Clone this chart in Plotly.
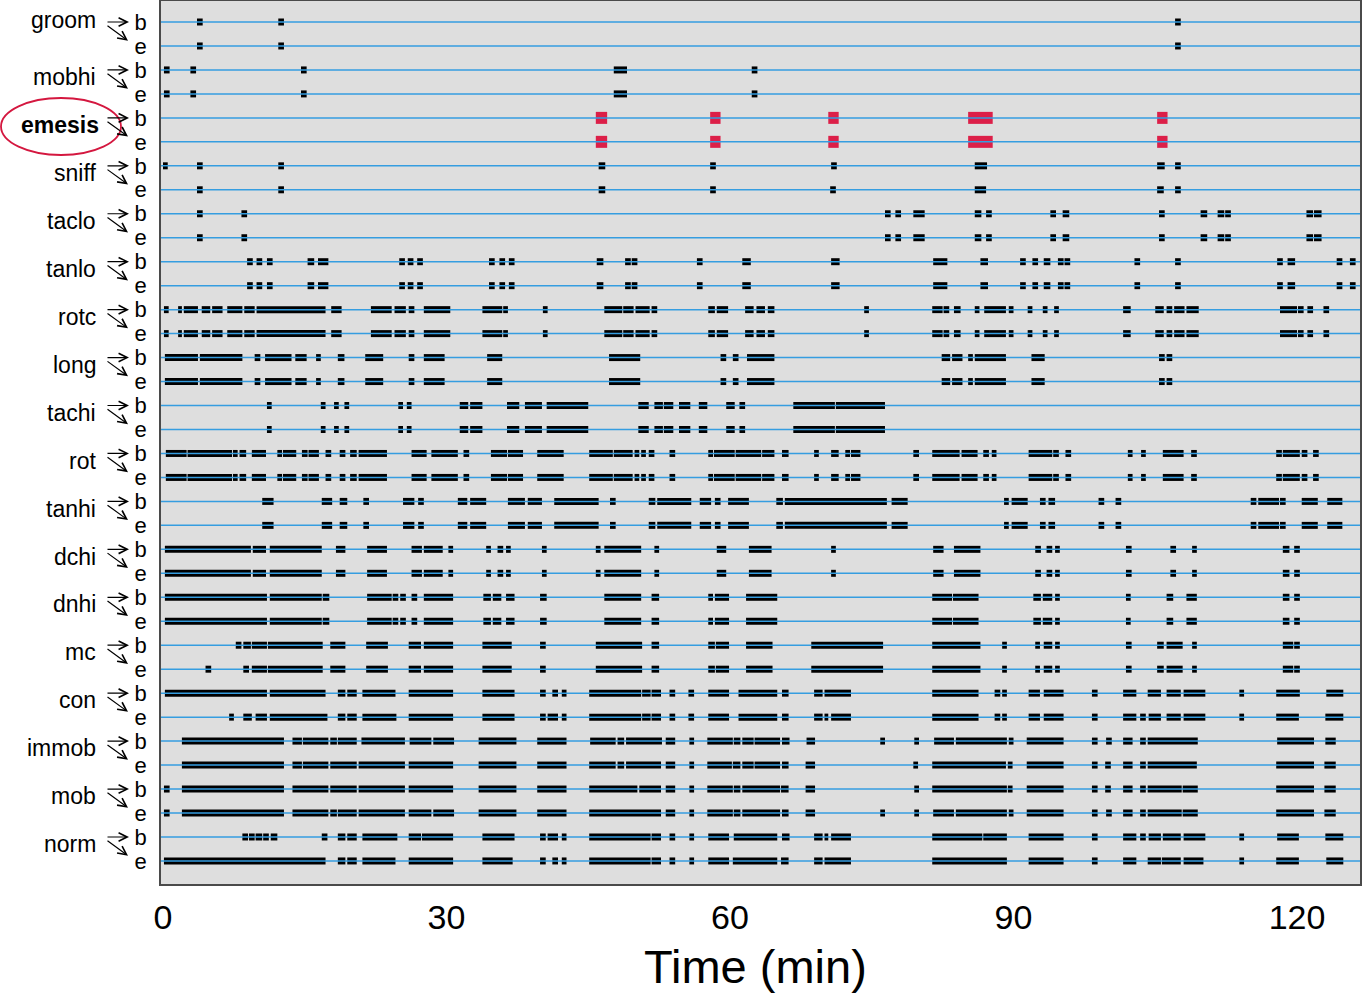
import plotly.graph_objects as go

# behaviour names, top to bottom; each one has a "b" row and an "e" row
behaviours = ["groom", "mobhi", "emesis", "sniff", "taclo", "tanlo", "rotc", "long", "tachi",
              "rot", "tanhi", "dchi", "dnhi", "mc", "con", "immob", "mob", "norm"]
row_labels = ["b", "e"]
time_ticks = [0, 30, 60, 90, 120]

# bouts as (start, end) in minutes
groom_b = [(3.6, 4.2), (12.2, 12.8), (107.1, 107.7)]
groom_e = [(3.6, 4.2), (12.2, 12.8), (107.1, 107.7)]

mobhi_b = [(0.1, 0.7), (2.9, 3.5), (14.6, 15.2), (47.7, 49.1), (62.3, 62.9)]
mobhi_e = list(mobhi_b)

emesis_b = [(45.8, 47.0), (57.9, 59.0), (70.4, 71.5), (85.2, 87.8), (105.2, 106.3)]
emesis_e = list(emesis_b)

sniff_b = [(0.0, 0.5), (3.6, 4.2), (12.2, 12.8), (46.1, 46.8), (57.9, 58.5), (70.7, 71.3),
           (85.9, 87.2), (105.2, 106.0), (107.1, 107.7)]
sniff_e = [(3.6, 4.2), (12.2, 12.8), (46.1, 46.8), (57.9, 58.5), (70.6, 71.2), (85.9, 87.1),
           (105.2, 105.9), (107.1, 107.7)]

taclo_b = [(3.6, 4.2), (8.3, 8.9), (76.4, 77.0), (77.5, 78.1), (79.4, 80.6), (85.9, 86.6),
           (87.1, 87.7), (93.9, 94.5), (95.2, 95.9), (105.4, 106.0), (109.8, 110.5),
           (111.6, 112.3), (112.4, 113.0), (121.0, 121.7), (121.8, 122.6)]
taclo_e = list(taclo_b)

tanlo_b = [(8.9, 9.5), (9.9, 10.5), (11.0, 11.6), (15.3, 16.0), (16.4, 17.5), (25.0, 25.6),
           (25.9, 26.5), (26.9, 27.5), (34.5, 35.1), (35.6, 36.2), (36.6, 37.2), (45.9, 46.6),
           (48.9, 49.5), (49.6, 50.2), (56.5, 57.1), (61.3, 62.2), (70.7, 71.6), (81.5, 83.0),
           (86.5, 87.3), (90.7, 91.3), (92.0, 92.6), (93.2, 93.9), (94.7, 95.3), (95.4, 96.0),
           (102.8, 103.4), (107.1, 107.7), (117.9, 118.5), (119.0, 119.8), (124.2, 124.8),
           (125.6, 126.2)]
tanlo_e = list(tanlo_b)

rotc_b = [(0.1, 0.6), (1.6, 2.0), (2.2, 3.7), (4.1, 5.0), (5.2, 6.3), (6.8, 8.4), (8.6, 9.7),
          (9.9, 17.2), (17.8, 18.9), (22.0, 24.2), (24.5, 25.7), (26.0, 26.6), (27.6, 30.4),
          (33.8, 35.9), (36.0, 36.5), (40.2, 40.7), (46.7, 48.6), (48.7, 49.8), (50.0, 51.5),
          (51.7, 52.3), (57.7, 58.4), (58.6, 59.8), (61.6, 62.5), (62.8, 63.7), (64.0, 64.7),
          (74.2, 74.7), (81.4, 82.5), (82.6, 83.2), (83.7, 84.4), (85.9, 86.4), (86.9, 89.2),
          (89.5, 90.0), (91.5, 92.0), (93.1, 93.6), (94.3, 94.8), (101.6, 102.4), (105.0, 105.9),
          (106.2, 106.8), (107.0, 108.1), (108.3, 109.6), (118.2, 120.0), (120.1, 120.7),
          (121.1, 121.7), (122.8, 123.4)]
rotc_e = list(rotc_b)

long_b = [(0.2, 3.7), (3.9, 8.4), (9.7, 10.3), (10.8, 13.6), (14.0, 15.2), (16.2, 16.7),
          (18.5, 19.2), (21.4, 23.3), (26.0, 26.6), (27.6, 29.8), (34.3, 35.9), (47.2, 50.5),
          (59.0, 59.6), (60.3, 60.9), (61.8, 64.7), (82.4, 83.3), (83.5, 84.6), (85.2, 85.7),
          (85.9, 89.2), (91.9, 93.3), (105.4, 106.0), (106.2, 106.8)]
long_e = list(long_b)

tachi_b = [(11.0, 11.5), (16.7, 17.2), (18.1, 18.6), (19.2, 19.7), (24.9, 25.4), (25.8, 26.3),
           (31.4, 32.3), (32.5, 33.8), (36.4, 37.7), (38.3, 40.1), (40.6, 45.0), (50.3, 51.4),
           (52.0, 52.9), (53.0, 54.0), (54.6, 55.8), (56.7, 57.6), (59.6, 60.5), (61.0, 61.6),
           (66.7, 71.1), (71.2, 76.4)]
tachi_e = list(tachi_b)

rot_b = [(0.3, 2.5), (2.6, 7.3), (7.4, 7.9), (8.1, 8.8), (9.4, 10.9), (12.1, 12.6), (12.7, 14.1),
         (14.7, 15.3), (15.4, 16.5), (17.2, 17.8), (18.7, 19.3), (19.8, 20.5), (20.7, 23.7),
         (26.3, 27.9), (28.4, 31.2), (31.8, 32.4), (34.7, 36.4), (36.5, 38.1), (39.6, 42.4),
         (45.1, 47.6), (47.7, 49.7), (49.9, 50.4), (50.6, 51.1), (51.4, 52.0), (53.6, 54.2),
         (57.7, 58.2), (58.3, 60.5), (60.6, 63.3), (63.4, 64.7), (65.5, 66.2), (68.9, 69.4),
         (70.7, 71.5), (72.2, 72.7), (72.8, 73.8), (79.4, 80.0), (81.4, 84.3), (84.5, 86.2),
         (86.8, 87.4), (87.7, 88.2), (91.6, 94.1), (94.2, 94.8), (95.5, 96.1), (102.1, 102.6),
         (103.5, 104.0), (105.8, 108.0), (108.8, 109.4), (117.8, 118.4), (118.5, 120.3),
         (120.5, 121.1), (121.7, 122.3)]
rot_e = list(rot_b)

tanhi_b = [(10.5, 11.7), (16.8, 17.9), (18.7, 19.5), (21.2, 21.8), (25.4, 26.6), (27.0, 27.6),
           (31.2, 32.2), (32.5, 34.2), (36.5, 38.3), (38.6, 40.1), (41.4, 46.1), (47.3, 47.9),
           (51.4, 52.1), (52.3, 55.9), (56.8, 58.0), (58.4, 59.0), (59.8, 62.0), (64.9, 65.6),
           (65.8, 76.6), (77.1, 78.8), (89.0, 89.5), (89.8, 91.5), (92.8, 93.4), (93.7, 94.4),
           (99.0, 99.6), (100.8, 101.4), (115.1, 115.7), (115.9, 118.1), (118.2, 118.8),
           (120.5, 122.2), (123.2, 124.8)]
tanhi_e = list(tanhi_b)

dchi_b = [(0.2, 9.3), (9.5, 10.9), (11.3, 16.8), (18.3, 19.3), (21.6, 23.7), (26.3, 27.4),
          (27.6, 29.6), (30.2, 30.7), (34.2, 34.7), (35.4, 36.0), (36.3, 36.8), (40.1, 40.6),
          (45.8, 46.3), (46.7, 50.6), (52.0, 52.5), (58.6, 59.6), (62.0, 64.4), (70.7, 71.2),
          (81.5, 82.6), (83.7, 86.5), (92.3, 92.9), (93.5, 94.1), (94.4, 94.9), (101.9, 102.5),
          (106.6, 107.2), (108.9, 109.4), (118.5, 119.2), (119.7, 120.3)]
dchi_e = list(dchi_b)

dnhi_b = [(0.2, 11.0), (11.3, 16.8), (16.9, 17.6), (21.6, 24.2), (24.3, 24.9), (25.1, 25.7),
          (26.3, 26.9), (27.6, 30.7), (33.9, 34.7), (34.9, 35.8), (36.3, 37.2), (39.9, 40.6),
          (46.7, 50.6), (51.7, 52.5), (57.7, 58.2), (58.4, 59.9), (61.7, 65.0), (81.4, 83.5),
          (83.6, 86.3), (92.1, 92.9), (93.1, 94.1), (94.4, 94.9), (101.9, 102.4), (106.2, 106.9),
          (108.3, 109.4), (118.5, 119.2), (119.7, 120.3)]
dnhi_e = list(dnhi_b)

mc_b = [(7.7, 8.3), (8.5, 9.3), (9.4, 11.0), (11.1, 16.9), (17.7, 19.3), (21.5, 23.8),
        (26.0, 27.3), (27.6, 30.7), (33.8, 36.9), (39.9, 40.5), (45.8, 50.7), (51.7, 52.5),
        (57.7, 58.4), (58.5, 59.9), (61.7, 64.5), (68.6, 76.2), (81.4, 86.5), (88.8, 89.3),
        (92.3, 92.8), (93.2, 94.1), (94.4, 94.9), (101.9, 102.5), (105.2, 105.9), (106.2, 107.9),
        (108.9, 109.4), (118.5, 119.6), (119.7, 120.3)]
mc_e = [(4.5, 5.1), (8.5, 9.1), (9.4, 11.0), (11.1, 16.9), (17.7, 19.3), (21.5, 23.8),
        (26.0, 27.3), (27.6, 30.7), (33.8, 36.9), (39.9, 40.5), (45.8, 50.7), (51.7, 52.5),
        (57.7, 58.4), (58.5, 59.9), (61.7, 64.5), (68.6, 76.2), (81.4, 86.5), (88.8, 89.3),
        (92.3, 92.8), (93.2, 94.1), (94.4, 94.9), (101.9, 102.5), (105.2, 105.9), (106.2, 107.9),
        (108.9, 109.4), (118.5, 119.6), (119.7, 120.3)]

con_b = [(0.2, 11.0), (11.3, 17.2), (18.5, 19.3), (19.5, 20.5), (21.1, 24.6), (26.0, 30.7),
         (33.8, 37.2), (39.9, 40.5), (41.2, 41.8), (42.2, 42.7), (45.1, 50.6), (50.7, 51.6),
         (51.7, 52.7), (53.6, 54.2), (55.6, 56.2), (57.7, 59.9), (60.9, 65.0), (65.5, 66.2),
         (68.9, 69.8), (70.0, 72.8), (81.4, 86.3), (88.0, 88.6), (88.8, 89.3), (91.6, 92.8),
         (93.2, 95.3), (98.3, 98.9), (101.6, 103.0), (104.2, 105.6), (106.2, 107.7),
         (108.0, 110.3), (113.9, 114.4), (117.8, 120.3), (123.1, 124.9)]
con_e = [(7.0, 7.5), (8.5, 9.4), (9.8, 11.0), (11.3, 17.4), (18.5, 19.3), (19.5, 20.5),
         (21.1, 24.7), (26.0, 30.7), (33.8, 37.2), (39.9, 40.5), (40.7, 41.8), (42.2, 42.7),
         (45.1, 50.6), (50.7, 51.6), (51.7, 52.7), (53.6, 54.2), (55.6, 56.2), (57.7, 59.9),
         (60.9, 65.0), (65.5, 66.2), (68.9, 69.8), (70.0, 70.4), (70.7, 72.8), (81.4, 86.3),
         (88.0, 88.6), (88.8, 89.3), (91.6, 92.8), (93.2, 95.3), (98.3, 98.9), (101.6, 103.0),
         (103.4, 104.0), (104.3, 105.6), (106.2, 107.7), (108.0, 110.3), (113.9, 114.4),
         (117.8, 120.2), (123.0, 124.9)]

immob_b = [(2.0, 12.8), (13.7, 14.7), (14.8, 17.5), (17.7, 18.4), (18.5, 20.5), (21.0, 25.6),
           (26.1, 28.4), (28.6, 30.8), (33.4, 37.4), (39.6, 42.7), (45.2, 47.9), (48.1, 48.8),
           (49.0, 52.8), (53.2, 54.2), (55.7, 56.2), (57.6, 60.3), (60.4, 61.1), (61.3, 62.5),
           (62.6, 65.3), (65.5, 66.3), (68.1, 69.0), (75.9, 76.4), (79.5, 80.0), (81.6, 83.7),
           (83.9, 89.3), (89.5, 90.0), (91.4, 95.3), (98.3, 98.9), (99.8, 100.4), (101.6, 102.6),
           (103.4, 104.0), (104.2, 109.5), (117.9, 121.8), (123.0, 124.1)]
immob_e = [(2.0, 12.8), (13.7, 14.7), (14.8, 17.5), (17.7, 20.5), (20.7, 25.6), (26.0, 30.7),
           (33.4, 37.4), (39.6, 42.7), (45.1, 47.9), (48.1, 48.8), (49.0, 52.7), (53.2, 54.2),
           (55.7, 56.2), (57.6, 60.2), (60.3, 61.1), (61.3, 62.5), (62.6, 65.3), (65.5, 66.2),
           (68.0, 69.0), (79.4, 79.9), (81.4, 89.2), (89.4, 89.9), (91.4, 95.3), (98.3, 98.9),
           (99.7, 100.3), (101.6, 102.6), (103.4, 104.0), (104.2, 109.4), (117.8, 121.8),
           (122.9, 124.1)]

mob_b = [(0.1, 0.7), (2.0, 12.8), (13.7, 17.5), (17.7, 20.5), (20.7, 25.6), (26.0, 30.7),
         (33.4, 37.4), (39.6, 42.7), (45.1, 50.2), (50.4, 52.7), (53.2, 54.2), (55.7, 56.2),
         (57.6, 60.3), (60.4, 61.1), (61.3, 65.3), (65.4, 66.2), (68.0, 69.0), (79.5, 80.0),
         (81.4, 89.3), (89.4, 89.9), (91.4, 95.3), (98.3, 98.9), (99.7, 100.3), (101.6, 102.6),
         (103.4, 104.0), (104.2, 107.8), (107.9, 109.5), (117.8, 121.8), (122.9, 124.1)]
mob_e = [(0.1, 0.7), (2.0, 12.8), (13.7, 17.5), (17.7, 18.4), (18.5, 20.5), (20.7, 25.6),
         (26.0, 28.4), (28.6, 30.8), (33.4, 37.4), (39.6, 42.7), (45.1, 52.7), (53.2, 54.2),
         (55.7, 56.2), (57.6, 60.3), (60.4, 61.1), (61.3, 65.3), (65.5, 66.2), (68.0, 69.0),
         (75.9, 76.4), (79.5, 80.0), (81.5, 83.7), (83.9, 89.3), (89.5, 90.0), (91.4, 95.3),
         (98.3, 98.9), (99.8, 100.4), (101.6, 102.6), (103.4, 104.0), (104.2, 107.8),
         (107.9, 109.5), (117.8, 121.8), (122.9, 124.1)]

norm_b = [(8.4, 9.0), (9.1, 9.7), (9.8, 10.5), (10.6, 11.2), (11.4, 12.1), (16.8, 17.4),
          (18.5, 19.3), (19.5, 20.5), (21.1, 24.8), (26.0, 27.3), (27.4, 30.7), (33.8, 37.2),
          (39.9, 40.5), (40.7, 41.8), (42.2, 42.7), (45.1, 51.6), (51.7, 52.7), (53.6, 54.2),
          (55.7, 56.2), (57.7, 59.9), (60.4, 65.0), (65.5, 66.3), (68.9, 69.8), (70.0, 70.4),
          (70.7, 72.8), (81.4, 86.7), (86.8, 89.3), (91.6, 95.3), (98.3, 98.9), (101.6, 103.0),
          (103.4, 104.0), (104.3, 105.6), (105.8, 107.7), (108.0, 110.3), (113.9, 114.4),
          (117.9, 120.2), (123.0, 124.9)]
norm_e = [(0.1, 17.2), (18.5, 19.3), (19.5, 20.5), (21.1, 24.6), (26.0, 30.7), (33.8, 37.0),
          (39.9, 40.5), (41.2, 41.8), (42.2, 42.7), (45.1, 51.6), (51.7, 52.7), (53.6, 54.2),
          (55.7, 56.2), (57.7, 59.9), (60.3, 65.0), (65.4, 66.2), (68.9, 69.8), (70.0, 72.8),
          (81.4, 89.3), (91.6, 95.3), (98.3, 98.9), (101.6, 103.0), (104.2, 105.6),
          (105.7, 107.7), (108.0, 110.1), (113.9, 114.4), (117.8, 120.2), (123.1, 124.9)]

bouts = [(groom_b, groom_e), (mobhi_b, mobhi_e), (emesis_b, emesis_e), (sniff_b, sniff_e),
         (taclo_b, taclo_e), (tanlo_b, tanlo_e), (rotc_b, rotc_e), (long_b, long_e),
         (tachi_b, tachi_e), (rot_b, rot_e), (tanhi_b, tanhi_e), (dchi_b, dchi_e),
         (dnhi_b, dnhi_e), (mc_b, mc_e), (con_b, con_e), (immob_b, immob_e),
         (mob_b, mob_e), (norm_b, norm_e)]

# page geometry (pixels)
W, H = 1362, 993
ML, MR, MT, MB = 161, 2, 1, 109
PW, PH = W - ML - MR, H - MT - MB
ROW_PX = 23.97
FIRST_ROW_PX = 22
FONT = "Liberation Sans, Arial, sans-serif"


def px2x(px):
    return (px - ML) / PW


def py2y(py):
    return 1 - (py - MT) / PH


fig = go.Figure()

for i, name in enumerate(behaviours):
    for j, rows in enumerate(bouts[i]):
        r = 2 * i + j
        xs, ys = [], []
        for s, e in rows:
            xs += [s, e, None]
            ys += [r, r, None]
        red = name == "emesis"
        fig.add_trace(go.Scatter(
            x=xs, y=ys, mode="lines",
            line=dict(color="#dc1f48" if red else "black", width=12 if red else 7),
            hoverinfo="skip", showlegend=False))

n_rows = 2 * len(behaviours)
shapes = []
for r in range(n_rows):
    shapes.append(dict(type="line", xref="paper", x0=0, x1=1, yref="y", y0=r, y1=r,
                       line=dict(color="#359de0", width=1.5), layer="above"))

# red ellipse round the emesis label
shapes.append(dict(type="circle", xref="paper", yref="paper",
                   x0=px2x(1), x1=px2x(121), y0=py2y(155), y1=py2y(98),
                   line=dict(color="#d4173f", width=1.8)))

annotations = []
for i, name in enumerate(behaviours):
    rb, re_ = 2 * i, 2 * i + 1
    txt = "<b>%s</b>" % name if name == "emesis" else name
    # the top label sits a bit higher than the others in the original
    dy = -0.08 if name == "groom" else 0.3
    annotations.append(dict(text=txt, xref="paper", x=px2x(98 if name != "emesis" else 101),
                            xanchor="right", yref="y", y=rb + dy, yanchor="middle",
                            showarrow=False, font=dict(family=FONT, size=23, color="black")))
    # arrow to b
    annotations.append(dict(text="", xref="paper", x=px2x(129), yref="y", y=rb,
                            ax=-23, ay=0, showarrow=True, arrowhead=5, arrowsize=1.4,
                            arrowwidth=1.2, arrowcolor="black"))
    # arrow to e
    annotations.append(dict(text="", xref="paper", x=px2x(128), yref="y", y=re_ - 0.22,
                            ax=-22, ay=-16, showarrow=True, arrowhead=5, arrowsize=1.4,
                            arrowwidth=1.2, arrowcolor="black"))

# "Time (min)" as a paper annotation so it sits where the reference has it
annotations.append(dict(text="Time (min)", xref="paper", x=px2x(755), xanchor="center",
                        yref="paper", y=py2y(966), yanchor="middle", showarrow=False,
                        font=dict(family=FONT, size=47, color="black")))

x_lo = (ML - 163) / 9.45
x_hi = (ML + PW - 163) / 9.45
y_top = (MT - FIRST_ROW_PX) / ROW_PX
y_bot = (MT + PH - FIRST_ROW_PX) / ROW_PX

fig.update_layout(
    width=W, height=H,
    margin=dict(l=ML, r=MR, t=MT, b=MB, autoexpand=False),
    paper_bgcolor="white", plot_bgcolor="#dedede",
    shapes=shapes, annotations=annotations,
    xaxis=dict(range=[x_lo, x_hi], tickvals=time_ticks, showgrid=False, zeroline=False,
               showline=True, mirror=True, linecolor="#4a4a4a", linewidth=1.5, ticks="",
               ticklabelstandoff=2, automargin=False,
               tickfont=dict(family=FONT, size=34, color="black")),
    yaxis=dict(range=[y_bot, y_top], tickvals=list(range(n_rows)),
               ticktext=row_labels * len(behaviours), showgrid=False, zeroline=False,
               showline=True, mirror=True, linecolor="#4a4a4a", linewidth=1.5, ticks="",
               ticklabelstandoff=8, automargin=False,
               tickfont=dict(family=FONT, size=22, color="black")),
)

# drop the browser's default page margin so the figure sits at the top-left corner
fig.write_html("out.html", config={"displayModeBar": False},
               post_script="document.body.style.margin='0px';")
